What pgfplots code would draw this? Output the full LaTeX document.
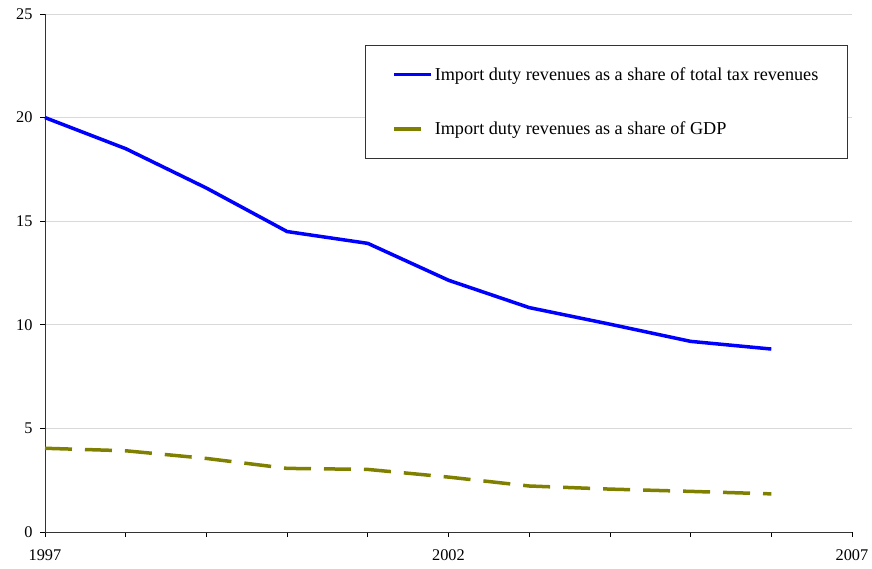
\documentclass[border=0pt]{standalone}
\usepackage{pgfplots}
\pgfplotsset{compat=1.18}
\usepackage{fontspec}
\setmainfont{Liberation Serif}
\definecolor{lineblue}{RGB}{0,0,255}
\definecolor{lineolive}{RGB}{128,128,0}
\begin{document}
\begin{tikzpicture}
\begin{axis}[
  scale only axis,
  width=807pt, height=518pt,
  xmin=1997, xmax=2007, ymin=0, ymax=25,
  axis x line=bottom, axis y line=left,
  axis line style={-, black!80},
  xtick={1997,...,2007},
  xticklabels={1997,,,,,2002,,,,,2007},
  ytick={0,5,10,15,20,25},
  tick align=outside,
  major tick length=5pt,
  tick style={black, line width=0.6pt},
  xticklabel style={yshift=-9pt},
  yticklabel style={xshift=-4pt},
  ymajorgrids,
  grid style={black!15, line width=0.6pt},
  /pgf/number format/assume math mode=true,
  tick label style={font=\fontsize{16.3}{18}\selectfont},
  clip=false,
  legend cell align=left,
  legend style={
    at={(0.3965,0.940)}, anchor=north west,
    draw=black!80, line width=0.6pt,
    font=\fontsize{18.2}{20}\selectfont,
    inner xsep=27pt, inner ysep=20pt,
    row sep=36pt,
  },
  legend image code/.code={\draw[#1] (0pt,0pt) -- (37pt,0pt);},
]
\addplot[lineblue, line width=3.5pt] coordinates {
 (1997,20.0) (1998,18.5) (1999,16.6) (2000,14.5) (2001,13.93)
 (2002,12.15) (2003,10.83) (2004,10.03) (2005,9.2) (2006,8.83)
};
\addlegendentry{Import duty revenues as a share of total tax revenues}
\addplot[lineolive, line width=3.5pt, dash pattern=on 27pt off 13pt] coordinates {
 (1997,4.04) (1998,3.92) (1999,3.55) (2000,3.07) (2001,3.02)
 (2002,2.65) (2003,2.22) (2004,2.07) (2005,1.96) (2006,1.84)
};
\addlegendentry{Import duty revenues as a share of GDP}
\coordinate (ll) at (rel axis cs:0,0);
\coordinate (ur) at (rel axis cs:1,1);
\end{axis}
\path ([shift={(-45pt,-37pt)}]ll) rectangle ([shift={(20pt,14pt)}]ur);
\end{tikzpicture}
\end{document}
